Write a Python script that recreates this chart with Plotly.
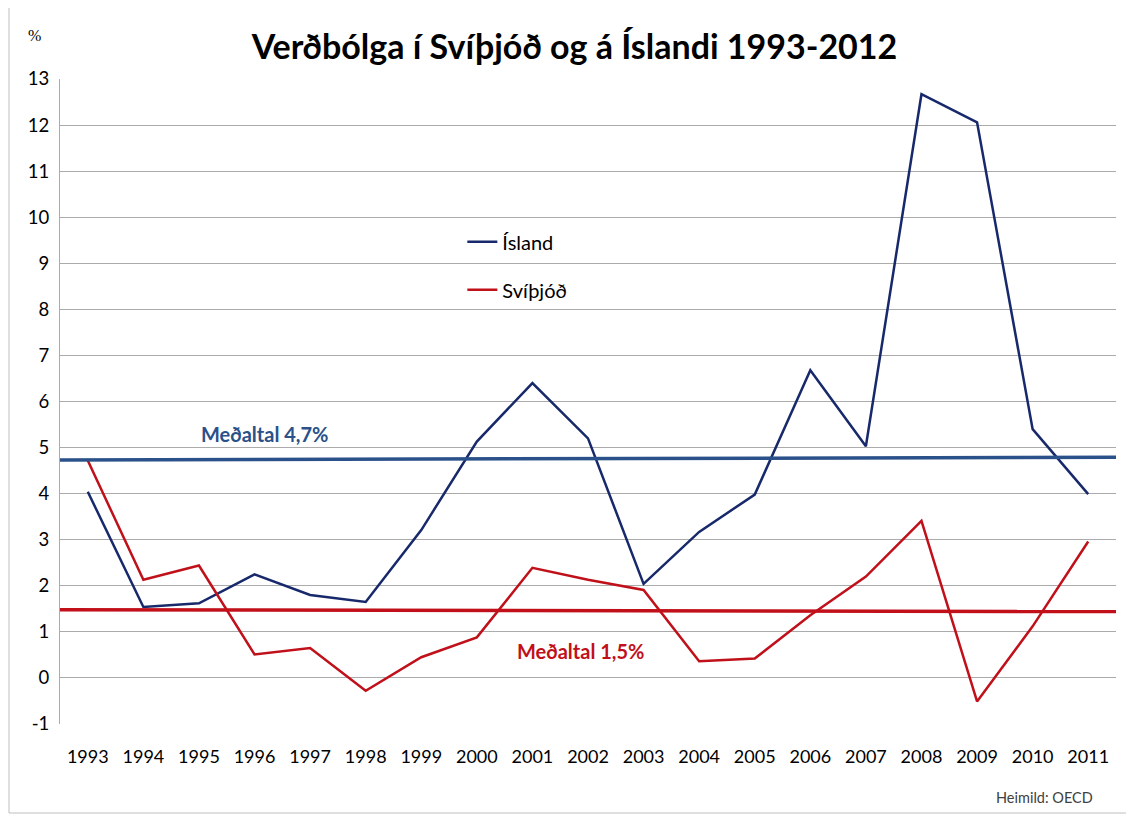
import plotly.graph_objects as go

years = [str(y) for y in range(1993, 2012)]
island = [4.04, 1.54, 1.62, 2.25, 1.80, 1.65, 3.21, 5.13, 6.40, 5.20, 2.04, 3.17, 3.98, 6.68, 5.03, 12.67, 12.06, 5.40, 3.99]
svithjod = [4.72, 2.13, 2.44, 0.51, 0.65, -0.28, 0.45, 0.88, 2.39, 2.13, 1.91, 0.36, 0.42, 1.36, 2.20, 3.41, -0.51, 1.12, 2.96]
avg_x = [0, 1]
avg_island = [4.73, 4.79]
avg_svi = [1.48, 1.44]
y_ticks = list(range(-1, 14))
y_tick_text = [str(v) for v in y_ticks]

NAVY = "#17296A"
RED = "#C0101A"
AVG_BLUE = "#2A5189"
AVG_RED = "#C2101A"
FONT = "Lato, 'Open Sans', sans-serif"

# page body has an 8px default margin: figure is sized/placed to compensate
W, H = 1126, 811
L, R, T, B = 52, 18, 71, 95
PW, PH = W - L - R, H - T - B  # 1056 x 645


def px(xref_px):
    return (xref_px - 60) / PW


def py(yref_px):
    return (724 - yref_px) / PH


fig = go.Figure()
fig.add_trace(go.Scatter(x=avg_x, y=avg_island, mode="lines", xaxis="x2",
                         line=dict(color=AVG_BLUE, width=3.5), showlegend=False, hoverinfo="skip"))
fig.add_trace(go.Scatter(x=avg_x, y=avg_svi, mode="lines", xaxis="x2",
                         line=dict(color=AVG_RED, width=3.5), showlegend=False, hoverinfo="skip"))
fig.add_trace(go.Scatter(x=years, y=island, mode="lines", name="Ísland",
                         line=dict(color=NAVY, width=2.5), legendgroup="a"))
fig.add_trace(go.Scatter(x=years, y=svithjod, mode="lines", name="Svíþjóð",
                         line=dict(color=RED, width=2.5), legendgroup="b"))

fig.update_layout(
    width=W, height=H,
    margin=dict(l=L, r=R, t=T, b=B),
    paper_bgcolor="white", plot_bgcolor="white",
    font=dict(family=FONT, color="#000000", size=18),
    title=dict(text="<b>Verðbólga í Svíþjóð og á Íslandi 1993-2012</b>",
               x=(574.5 - 8) / W, xanchor="center", y=1 - (47 - 8) / H, yanchor="middle",
               font=dict(size=34, color="#000000", family=FONT)),
    xaxis=dict(type="category", showgrid=False, showline=False, ticks="",
               tickfont=dict(size=18), range=[-0.5, 18.5], zeroline=False,
               ticklabelstandoff=20),
    xaxis2=dict(overlaying="x", range=[0, 1], visible=False, showgrid=False),
    yaxis=dict(range=[-1, 13], tickvals=y_ticks, ticktext=y_tick_text,
               showgrid=True, gridcolor="#ABABAB",
               gridwidth=1, zeroline=False, showline=True, linecolor="#ABABAB",
               linewidth=1, ticks="", tickfont=dict(size=18.5), ticklabelstandoff=6),
    legend=dict(x=0.381, y=0.778, xanchor="left", yanchor="top",
                bgcolor="rgba(0,0,0,0)", font=dict(size=20),
                tracegroupgap=19, itemwidth=30),
    showlegend=True,
)

fig.add_annotation(text="<b>Meðaltal 4,7%</b>", xref="paper", yref="paper",
                   x=px(265), y=py(434), xanchor="center", yanchor="middle", showarrow=False,
                   font=dict(size=20, color=AVG_BLUE, family=FONT))
fig.add_annotation(text="<b>Meðaltal 1,5%</b>", xref="paper", yref="paper",
                   x=px(581), y=py(651), xanchor="center", yanchor="middle", showarrow=False,
                   font=dict(size=20, color=AVG_RED, family=FONT))
fig.add_annotation(text="%", xref="paper", yref="paper",
                   x=px(34), y=py(35), xanchor="center", yanchor="middle", showarrow=False,
                   font=dict(size=16, color="#000000", family="'Liberation Serif', serif"))
fig.add_annotation(text="Heimild: OECD", xref="paper", yref="paper",
                   x=px(1095), y=py(797), xanchor="right", yanchor="middle", showarrow=False,
                   font=dict(size=14.5, color="#404040", family=FONT))

fig.add_shape(type="rect", xref="paper", yref="paper",
              x0=px(9), x1=px(1127), y0=py(813), y1=py(7),
              line=dict(color="#BFBFBF", width=1), fillcolor="rgba(0,0,0,0)", layer="below")

fig.write_html("out.html")
